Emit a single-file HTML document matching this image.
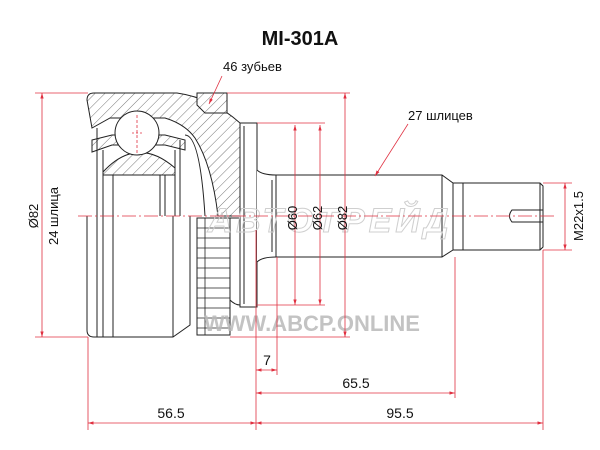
<!DOCTYPE html>
<html><head><meta charset="utf-8"><style>
html,body{margin:0;padding:0;background:#fff;}
svg{display:block;font-family:"Liberation Sans","DejaVu Sans",sans-serif;}
</style></head><body>
<svg width="600" height="450" viewBox="0 0 600 450" xmlns="http://www.w3.org/2000/svg">
<defs>
<pattern id="h" patternUnits="userSpaceOnUse" width="7" height="7" patternTransform="rotate(45)">
<rect width="7" height="7" fill="#fff"/><line x1="0" y1="0" x2="0" y2="7" stroke="#555" stroke-width="0.8"/>
</pattern>
<marker id="a" viewBox="0 0 10 10" refX="10" refY="5" markerWidth="7" markerHeight="7" orient="auto-start-reverse">
<path d="M0,2 L10,5 L0,8 z" fill="#e03040"/></marker>
</defs>

<text x="300" y="45" text-anchor="middle" font-size="20" font-weight="bold" fill="#111">MI-301A</text>

<g stroke="#222" stroke-width="1" fill="none">
<path d="M87,100 Q87,93 94,93 L177,93 Q212,98 240,123 L240,216 L218,216 Q212,165 195,138 Q185,124 165,118 L110,118 L92,128 Z" fill="url(#h)"/>
<path d="M197,93 L227,93 L227,113 L205,113 L197,105 Z" fill="url(#h)"/>
<path d="M103,172 Q137,135 175,168 L175,175 L103,175 Z" fill="url(#h)"/>
<path d="M92,140 L112,135 L165,135 L185,140 L185,150 L165,145 L112,145 L92,152 Z" fill="url(#h)"/>
<circle cx="137" cy="133" r="22" fill="#fff"/>
<line x1="97" y1="128" x2="97" y2="216"/>
<line x1="103" y1="150" x2="103" y2="216"/>
<line x1="113" y1="175" x2="113" y2="216"/>
<line x1="160" y1="175" x2="160" y2="216"/>
<line x1="165" y1="175" x2="165" y2="216"/>
<line x1="175" y1="150" x2="175" y2="216"/>
<line x1="180" y1="140" x2="180" y2="216"/>
<path d="M185,135 Q200,135 205,216"/>
<rect x="240" y="123" width="17" height="184" fill="#fff"/>
<line x1="244" y1="126" x2="244" y2="304"/>
<path d="M257,170 Q262,175 276,175 L442,175 L453,183 L463,183 L463,250 L453,250 L442,257 L276,257 Q262,257 257,262" fill="#fff"/>
<line x1="276" y1="175" x2="276" y2="257"/>
<line x1="272" y1="180" x2="272" y2="252"/>
<line x1="442" y1="175" x2="442" y2="257"/>
<line x1="453" y1="183" x2="453" y2="250"/>
<path d="M463,183 L540,183 L543,186 L543,247 L540,250 L463,250 Z" fill="#fff"/>
<line x1="540" y1="183" x2="540" y2="250"/>
<path d="M543,210 L512,210 Q507,216 512,222 L543,222"/>
<path d="M87,216 L87,330 Q87,337 94,337 L173,337 L190,325 L190,216"/>
<line x1="97" y1="216" x2="97" y2="337"/>
<line x1="103" y1="216" x2="103" y2="337"/>
<line x1="113" y1="216" x2="113" y2="337"/>
<line x1="173" y1="216" x2="173" y2="337"/>
<rect x="197" y="218" width="33" height="117" fill="#fff"/>
<g stroke-width="0.8">
<line x1="197" y1="228" x2="230" y2="228"/><line x1="197" y1="238" x2="230" y2="238"/>
<line x1="197" y1="248" x2="230" y2="248"/><line x1="197" y1="258" x2="230" y2="258"/>
<line x1="197" y1="268" x2="230" y2="268"/><line x1="197" y1="278" x2="230" y2="278"/>
<line x1="197" y1="288" x2="230" y2="288"/><line x1="197" y1="298" x2="230" y2="298"/>
<line x1="197" y1="308" x2="230" y2="308"/><line x1="197" y1="318" x2="230" y2="318"/>
<line x1="197" y1="328" x2="230" y2="328"/>
<line x1="205" y1="218" x2="205" y2="335"/>
</g>
<path d="M230,218 L240,218 M230,300 Q235,305 240,305"/>
</g>

<!-- watermarks on top -->
<text x="330" y="232" text-anchor="middle" font-size="34" font-style="italic" font-weight="bold" fill="none" stroke="#cfcfcf" stroke-width="1" letter-spacing="4">АВТОТРЕЙД</text>
<text x="312" y="331" text-anchor="middle" font-size="22" font-weight="bold" fill="#b8b8b8" fill-opacity="0.85">WWW.ABCP.ONLINE</text>

<g stroke="#e03040" stroke-width="0.8" fill="none">
<line x1="78" y1="216" x2="555" y2="216" stroke-dasharray="14,3,2,3"/>
<line x1="132" y1="133" x2="142" y2="133" stroke-dasharray="2,2"/>
<line x1="137" y1="115" x2="137" y2="155" stroke-dasharray="3,2"/>
<line x1="35" y1="93" x2="88" y2="93"/><line x1="35" y1="337" x2="88" y2="337"/>
<line x1="42" y1="93" x2="42" y2="337" marker-start="url(#a)" marker-end="url(#a)"/>
<line x1="227" y1="93" x2="350" y2="93"/>
<line x1="257" y1="123" x2="325" y2="123"/>
<line x1="257" y1="305" x2="325" y2="305"/>
<line x1="230" y1="337" x2="350" y2="337"/>
<line x1="295" y1="125" x2="295" y2="305" marker-start="url(#a)" marker-end="url(#a)"/>
<line x1="320" y1="125" x2="320" y2="305" marker-start="url(#a)" marker-end="url(#a)"/>
<line x1="345" y1="93" x2="345" y2="337" marker-start="url(#a)" marker-end="url(#a)"/>
<line x1="543" y1="183" x2="572" y2="183"/><line x1="543" y1="250" x2="572" y2="250"/>
<line x1="565" y1="183" x2="565" y2="250" marker-start="url(#a)" marker-end="url(#a)"/>
<line x1="88" y1="337" x2="88" y2="430"/>
<line x1="256" y1="230" x2="256" y2="430"/>
<line x1="277" y1="257" x2="277" y2="375"/>
<line x1="455" y1="257" x2="455" y2="398"/>
<line x1="543" y1="250" x2="543" y2="430"/>
<line x1="256" y1="370" x2="277" y2="370" marker-start="url(#a)" marker-end="url(#a)"/>
<line x1="256" y1="393" x2="455" y2="393" marker-start="url(#a)" marker-end="url(#a)"/>
<line x1="88" y1="423" x2="256" y2="423" marker-start="url(#a)" marker-end="url(#a)"/>
<line x1="256" y1="423" x2="543" y2="423" marker-start="url(#a)" marker-end="url(#a)"/>
<line x1="222" y1="76" x2="209" y2="104" marker-end="url(#a)"/>
<line x1="408" y1="124" x2="375" y2="176" marker-end="url(#a)"/>
</g>

<g fill="#111" font-size="13">
<text x="223" y="71">46 зубьев</text>
<text x="408" y="120">27 шлицев</text>
<text transform="translate(38,216) rotate(-90)" text-anchor="middle">Ø82</text>
<text transform="translate(58,216) rotate(-90)" text-anchor="middle">24 шлица</text>
<text transform="translate(297,218) rotate(-90)" text-anchor="middle">Ø60</text>
<text transform="translate(322,218) rotate(-90)" text-anchor="middle">Ø62</text>
<text transform="translate(347,218) rotate(-90)" text-anchor="middle">Ø82</text>
<text transform="translate(583,216) rotate(-90)" text-anchor="middle">M22x1.5</text>
<text x="267" y="365" text-anchor="middle" font-size="14">7</text>
<text x="356" y="388" text-anchor="middle" font-size="14">65.5</text>
<text x="171" y="418" text-anchor="middle" font-size="14">56.5</text>
<text x="400" y="418" text-anchor="middle" font-size="14">95.5</text>
</g>
</svg>
</body></html>
